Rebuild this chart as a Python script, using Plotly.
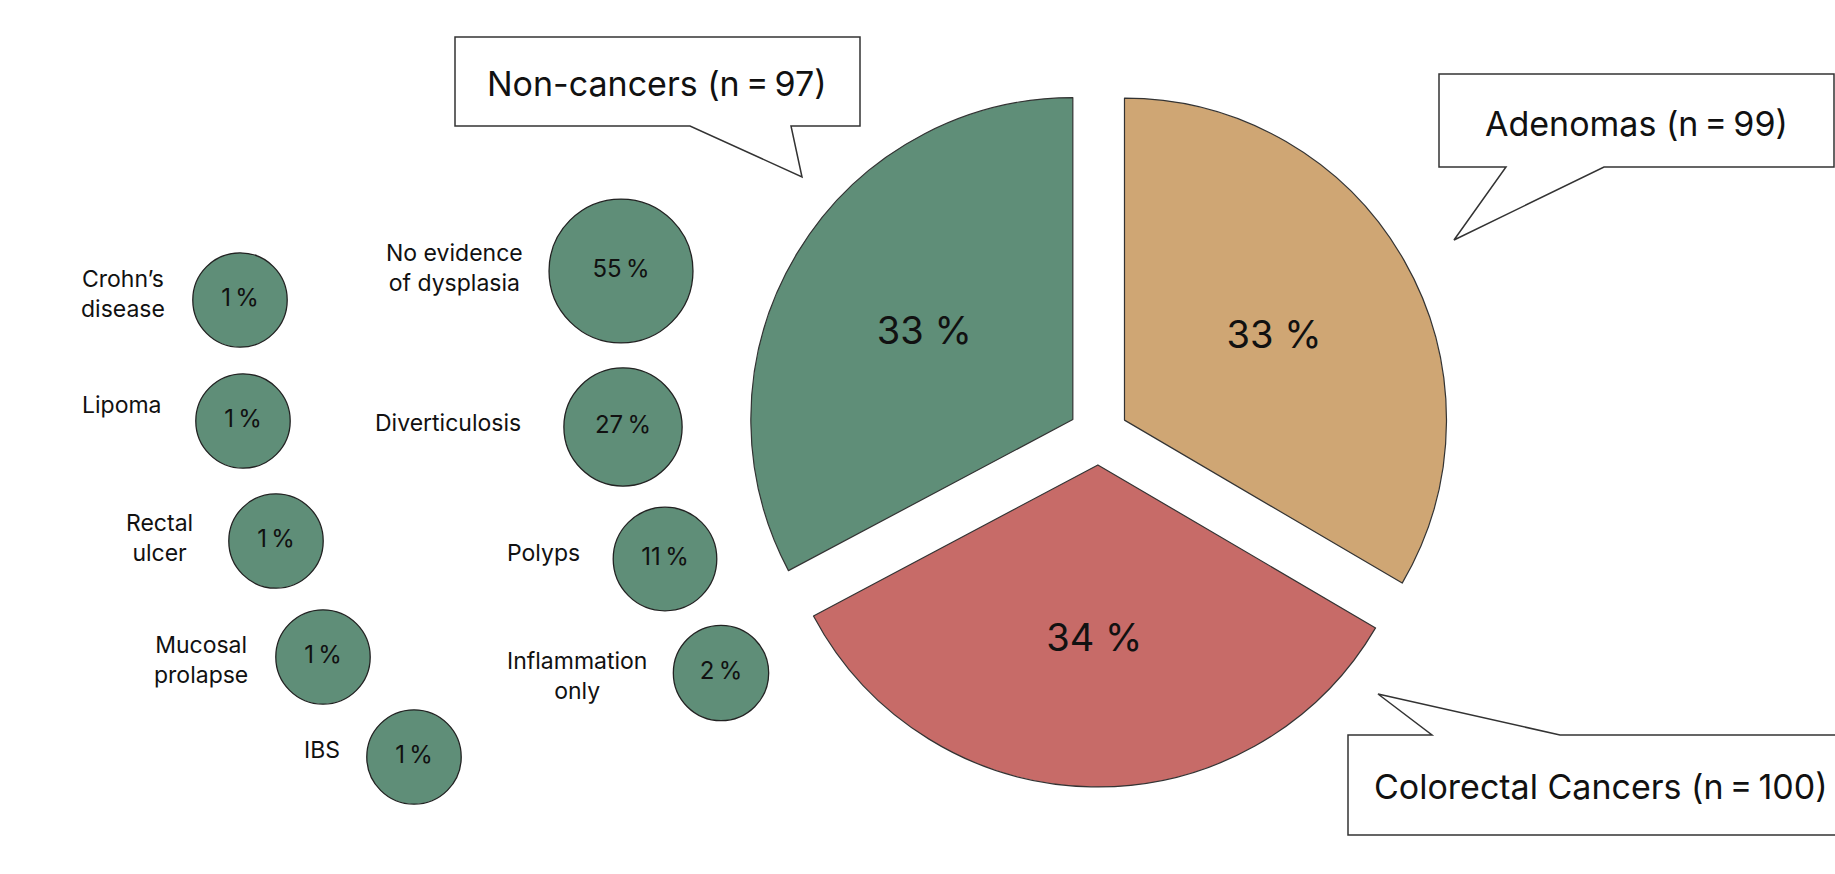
import plotly.graph_objects as go

W, H = 1835, 874

# ---- data ----
groups = ["Adenomas", "Colorectal Cancers", "Non-cancers"]
group_n = [99, 100, 97]
group_colors = ["#CFA674", "#C76B68", "#5F8E78"]

sub_labels = ["Crohn’s<br>disease", "Lipoma", "Rectal<br>ulcer", "Mucosal<br>prolapse", "IBS",
              "No evidence<br>of dysplasia", "Diverticulosis", "Polyps", "Inflammation<br>only"]
sub_pct = [1, 1, 1, 1, 1, 55, 27, 11, 2]

# ---- layout helpers (pixel positions on a hidden canvas axis) ----
bubble_xy = [(240, 300), (243, 421), (276, 541), (323, 657), (414, 757),
             (621, 271), (623, 427), (665, 559), (721, 673)]
label_xy = [(123, 294), (122, 405), (159, 538), (201, 660), (322, 750),
            (454, 268), (448, 423), (543, 553), (577, 676)]

FONT = "Inter"
total = sum(group_n)
pie_text = [f"{round(v / total * 100)} %" for v in group_n]

fig = go.Figure()

# pie: center (1098.5, 435), r=322, pull 0.093
pull = 0.093
r = 322
box = 2 * r * (1 + pull)
cx, cy = 1098.5, 435
fig.add_trace(go.Pie(
    labels=groups, values=group_n, sort=False, direction="clockwise", rotation=0,
    pull=[pull] * 3,
    marker=dict(colors=group_colors, line=dict(color="#333333", width=1.2)),
    text=pie_text, textinfo="text", textposition="inside",
    insidetextorientation="horizontal",
    textfont=dict(family=FONT, size=38, color="#111111"),
    hoverinfo="skip", showlegend=False,
    domain=dict(x=[(cx - box / 2) / W, (cx + box / 2) / W],
                y=[1 - (cy + box / 2) / H, 1 - (cy - box / 2) / H]),
))

# bubbles
fig.add_trace(go.Scatter(
    x=[p[0] for p in bubble_xy], y=[p[1] for p in bubble_xy],
    mode="markers+text",
    marker=dict(size=[93.5 + 0.917 * v for v in sub_pct], color="#5F8E78",
                line=dict(color="#222222", width=1.3), opacity=1),
    text=[f"{v}\u2009%" for v in sub_pct], textposition="middle center",
    textfont=dict(family=FONT, size=24, color="#111111"),
    hoverinfo="skip", showlegend=False, xaxis="x", yaxis="y",
))

annotations = []
for (lx, ly), lab in zip(label_xy, sub_labels):
    annotations.append(dict(x=lx, y=ly, xref="x", yref="y", text=lab, showarrow=False,
                            xanchor="center", yanchor="middle", align="center",
                            font=dict(family=FONT, size=23, color="#111111")))

# callouts
callouts = [
    ("Non-cancers", 97, (657, 83),
     "M455,37 L860,37 L860,126 L791,126 L802,177 L690,126 L455,126 Z"),
    ("Adenomas", 99, (1636, 123),
     "M1439,74 L1834,74 L1834,167 L1604,167 L1454,240 L1506,167 L1439,167 Z"),
    ("Colorectal Cancers", 100, (1601, 786),
     "M1348,735 L1432,735 L1378,694 L1560,735 L1840,735 L1840,835 L1348,835 Z"),
]
shapes = []
for name, n, (tx, ty), path in callouts:
    shapes.append(dict(type="path", path=path, xref="x", yref="y",
                       line=dict(color="#333333", width=1.5), fillcolor="white"))
    annotations.append(dict(x=tx, y=ty, xref="x", yref="y",
                            text=f"{name} (n\u2009=\u2009{n})",
                            showarrow=False, xanchor="center", yanchor="middle",
                            font=dict(family=FONT, size=34, color="#111111")))

fig.update_layout(
    width=W, height=H, margin=dict(l=0, r=0, t=0, b=0),
    paper_bgcolor="white", plot_bgcolor="white",
    xaxis=dict(range=[0, W], visible=False, domain=[0, 1], fixedrange=True),
    yaxis=dict(range=[H, 0], visible=False, domain=[0, 1], fixedrange=True),
    shapes=shapes, annotations=annotations, showlegend=False,
)

fig.write_html("out.html", config={"displayModeBar": False})
